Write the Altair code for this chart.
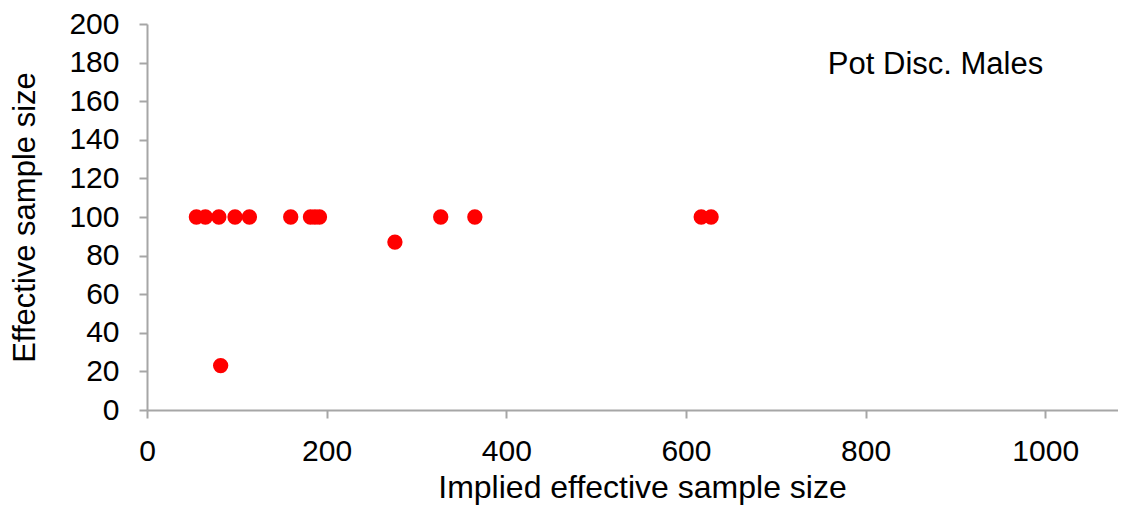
import altair as alt
import pandas as pd

# Data
implied_ess = [55, 65, 80, 98, 114, 160, 182, 187, 192, 276, 327, 365, 617, 628, 82]
effective_ss = [100, 100, 100, 100, 100, 100, 100, 100, 100, 87, 100, 100, 100, 100, 23]

x_ticks = [0, 200, 400, 600, 800, 1000]
y_ticks = [0, 20, 40, 60, 80, 100, 120, 140, 160, 180, 200]

label_text = ["Pot Disc. Males"]
label_x = [758]
label_y = [174]

FONT = "Liberation Sans"
AXIS_COLOR = "#a6a6a6"

df = pd.DataFrame({"x": implied_ess, "y": effective_ss})
df_lab = pd.DataFrame({"t": label_text, "x": label_x, "y": label_y})

x_scale = alt.Scale(domain=[0, 1081], nice=False, zero=False)
y_scale = alt.Scale(domain=[0, 200], nice=False)

x_axis = alt.Axis(
    values=x_ticks, format="d", grid=False, domainColor=AXIS_COLOR, tickColor=AXIS_COLOR,
    tickSize=8, labelPadding=18, labelFontSize=30, labelFont=FONT, labelColor="#000000",
    titleFontSize=32, titleFont=FONT, titleFontWeight="normal", titleColor="#000000",
    titlePadding=6, titleX=495, labelFlush=False, labelOverlap=False, domainWidth=2, tickWidth=2,
)
y_axis = alt.Axis(
    values=y_ticks, tickCount=11, format="d", grid=False, domainColor=AXIS_COLOR,
    tickColor=AXIS_COLOR, tickSize=8, labelPadding=20, labelFontSize=30, labelFont=FONT,
    labelColor="#000000", titleFontSize=31, titleFont=FONT, titleFontWeight="normal",
    titleColor="#000000", titlePadding=27, labelFlush=False, labelOverlap=False,
    domainWidth=2, tickWidth=2,
)

x_enc = alt.X("x:Q", scale=x_scale, axis=x_axis, title="Implied effective sample size")
y_enc = alt.Y("y:Q", scale=y_scale, axis=y_axis, title="Effective sample size")

points = alt.Chart(df).mark_circle(size=235, color="#ff0000", opacity=1).encode(
    x=x_enc, y=y_enc,
)

label = alt.Chart(df_lab).mark_text(
    align="left", baseline="alphabetic", fontSize=31, font=FONT, color="#000000"
).encode(
    x=x_enc, y=y_enc, text="t:N",
)

chart = alt.layer(points, label).properties(
    width=971, height=386,
    autosize=alt.AutoSizeParams(type="none"),
    padding={"left": 139, "top": 16, "right": 0, "bottom": 98},
).configure_view(stroke=None)

chart.save("out.html", embed_options={"renderer": "svg", "actions": False})
